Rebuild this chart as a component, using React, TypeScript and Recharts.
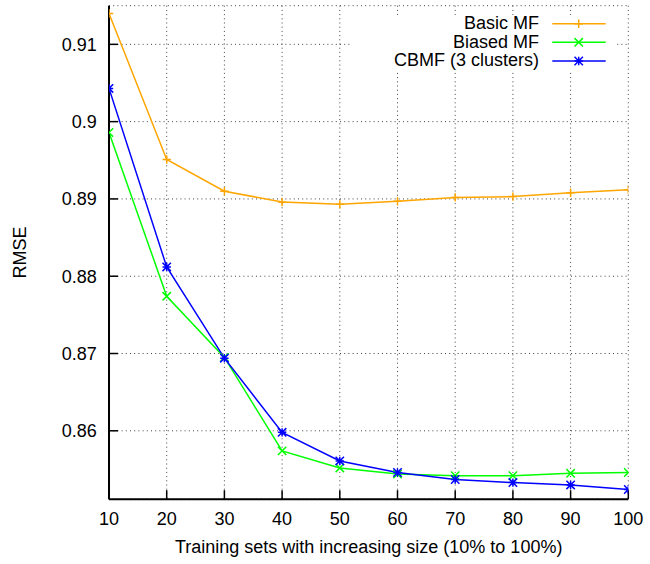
import React from 'react';
import { LineChart, Line, XAxis, YAxis, CartesianGrid, Legend } from 'recharts';

const xValues = [10, 20, 30, 40, 50, 60, 70, 80, 90, 100];
const basicMF = [0.914, 0.8951, 0.891, 0.8896, 0.8893, 0.8897, 0.8902, 0.8903, 0.8908, 0.8912];
const biasedMF = [0.8986, 0.8774, 0.8695, 0.8574, 0.8552, 0.8544, 0.8542, 0.8542, 0.8545, 0.8546];
const cbmf = [0.9043, 0.8812, 0.8694, 0.8598, 0.8561, 0.8546, 0.8537, 0.8533, 0.8530, 0.8524];
const seriesNames = ['Basic MF', 'Biased MF', 'CBMF (3 clusters)'];
const xTicks = [10, 20, 30, 40, 50, 60, 70, 80, 90, 100];
const yTicks = [0.86, 0.87, 0.88, 0.89, 0.9, 0.91];
const xDomain = [10, 100];
const yDomain = [0.85115, 0.915];
const xLabel = 'Training sets with increasing size (10% to 100%)';
const yLabel = 'RMSE';

const data = xValues.map((x, i) => ({ x, basic: basicMF[i], biased: biasedMF[i], cbmf: cbmf[i] }));

const FONT = '"Liberation Sans", Arial, Helvetica, sans-serif';

type Kind = 'plus' | 'cross' | 'star';
const series: { key: string; name: string; color: string; kind: Kind }[] = [
  { key: 'basic', name: seriesNames[0], color: '#ffa500', kind: 'plus' },
  { key: 'biased', name: seriesNames[1], color: '#00ff00', kind: 'cross' },
  { key: 'cbmf', name: seriesNames[2], color: '#0000ff', kind: 'star' },
];

function markerPath(kind: Kind, cx: number, cy: number, r: number) {
  const plus = `M${cx - r},${cy}H${cx + r}M${cx},${cy - r}V${cy + r}`;
  const cross = `M${cx - r},${cy - r}L${cx + r},${cy + r}M${cx - r},${cy + r}L${cx + r},${cy - r}`;
  if (kind === 'plus') return plus;
  if (kind === 'cross') return cross;
  return plus + cross;
}

const makeDot = (kind: Kind, color: string) => (p: any) => (
  <path
    key={`${kind}-${p.index}`}
    d={markerPath(kind, p.cx, p.cy, 4.2)}
    stroke={color}
    strokeWidth={1.5}
    fill="none"
  />
);

// The white box covers y 15..70; the svg starts 9px higher (transparent) so glyph ascenders are not clipped.
const LegendBox = () => (
  <svg width={265} height={64} style={{ display: 'block', position: 'relative', top: -9, overflow: 'visible' }}>
    {series.map((s, i) => {
      const ly = 17.7 + i * 18.65;
      return (
        <g key={s.key}>
          <text x={188} y={23.3 + i * 18.5} textAnchor="end" fontSize={18} fontFamily={FONT} fill="#000">
            {s.name}
          </text>
          <line x1={201.3} x2={254.7} y1={ly} y2={ly} stroke={s.color} strokeWidth={1.5} />
          <path d={markerPath(s.kind, 227.7, ly, 4.2)} stroke={s.color} strokeWidth={1.5} fill="none" />
        </g>
      );
    })}
  </svg>
);

const XLabelContent = (props: any) => {
  const vb = props.viewBox || {};
  return (
    <text x={vb.x + vb.width / 2} y={vb.y + 53.3} textAnchor="middle" fontSize={18} fontFamily={FONT} fill="#000">
      {xLabel}
    </text>
  );
};

const YLabelContent = (props: any) => {
  const vb = props.viewBox || {};
  const cx = vb.x + 25.5;
  const cy = vb.y + vb.height / 2;
  return (
    <text transform={`translate(${cx},${cy}) rotate(-90)`} textAnchor="middle" fontSize={18} fontFamily={FONT} fill="#000">
      {yLabel}
    </text>
  );
};

const fmtY = (v: number) => String(Number(v.toFixed(2)));
const tickStyle = { fontSize: 18, fill: '#000', fontFamily: FONT };
const axisLine = { stroke: '#000', strokeWidth: 2 };
const tickLine = { stroke: '#000', strokeWidth: 1.5 };

export default function App() {
  return (
    <div style={{ position: 'absolute', left: 0, top: 0, width: 650, height: 564, background: '#fff' }}>
      <LineChart width={650} height={564} data={data} margin={{ top: 5.7, right: 21.7, bottom: 0, left: 0 }}>
        <CartesianGrid stroke="#444" strokeDasharray="1 3.2" strokeWidth={1} />
        <XAxis
          dataKey="x"
          type="number"
          domain={xDomain}
          ticks={xTicks}
          allowDataOverflow
          height={64.8}
          tickSize={-9}
          tickMargin={22}
          tick={tickStyle}
          axisLine={axisLine}
          tickLine={tickLine}
          label={{ content: XLabelContent }}
        />
        <XAxis
          xAxisId="top"
          orientation="top"
          type="number"
          domain={xDomain}
          ticks={xTicks}
          allowDataOverflow
          height={0}
          tickSize={-9}
          tick={false}
          axisLine={axisLine}
          tickLine={tickLine}
        />
        <YAxis
          type="number"
          domain={yDomain}
          ticks={yTicks}
          allowDataOverflow
          width={109}
          tickSize={-9}
          tickMargin={21.3}
          tick={tickStyle}
          tickFormatter={fmtY}
          axisLine={axisLine}
          tickLine={tickLine}
          label={{ content: YLabelContent }}
        />
        <YAxis
          yAxisId="right"
          orientation="right"
          type="number"
          domain={yDomain}
          ticks={yTicks}
          allowDataOverflow
          width={0}
          tickSize={-9}
          tick={false}
          axisLine={axisLine}
          tickLine={tickLine}
        />
        <Legend
          content={LegendBox}
          layout="horizontal"
          verticalAlign="middle"
          align="center"
          wrapperStyle={{ left: 351, top: 15, width: 265, height: 55, background: '#fff', overflow: 'visible' }}
        />
        {series.map((s) => (
          <Line
            key={s.key}
            dataKey={s.key}
            name={s.name}
            stroke={s.color}
            strokeWidth={1.5}
            dot={makeDot(s.kind, s.color)}
            activeDot={false}
            isAnimationActive={false}
            type="linear"
          />
        ))}
      </LineChart>
    </div>
  );
}
